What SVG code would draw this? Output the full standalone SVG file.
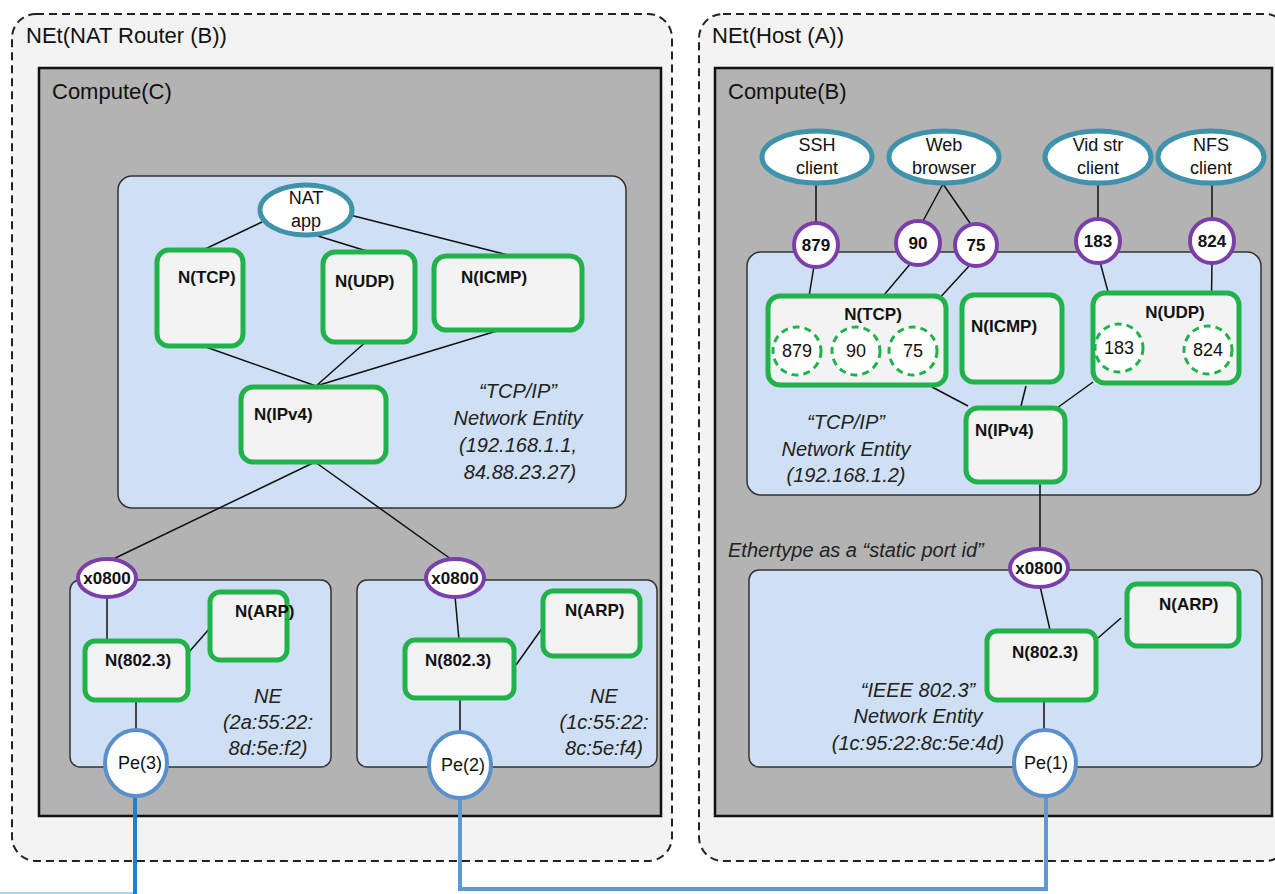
<svg xmlns="http://www.w3.org/2000/svg" width="1275" height="894" viewBox="0 0 1275 894">
<defs>
<style>
.outer{fill:#f3f3f3;stroke:#222;stroke-width:2;stroke-dasharray:8 5}
.compute{fill:#b3b3b3;stroke:#111;stroke-width:2.5}
.ent{fill:#cfe0f4;stroke:#333;stroke-width:1.5}
.node{fill:#f3f3f3;stroke:#22b24c;stroke-width:5}
.app{fill:#fff;stroke:#3f92aa;stroke-width:5}
.port{fill:#fff;stroke:#7a3fa8;stroke-width:4}
.dport{fill:#fff;stroke:#22b24c;stroke-width:3;stroke-dasharray:7 5}
.pe{fill:#fff;stroke:#5b8fc9;stroke-width:4}
.ln{stroke:#111;stroke-width:1.5;fill:none}
.wire{stroke:#5b9bd5;stroke-width:4;fill:none}
.wire2{stroke:#1f80d0;stroke-width:4;fill:none}
text{font-family:"Liberation Sans",Arial,sans-serif;fill:#111}
.title{font-size:22px}
.lbl{font-size:17px;font-weight:bold}
.reg{font-size:18px}
.it{font-size:20px;font-style:italic;fill:#222}
</style>
</defs>

<g id="netB">
<rect class="outer" x="12" y="14" width="660" height="847" rx="24"/>
<text class="title" x="26" y="43">NEt(NAT Router (B))</text>
</g>
<g id="netA">
<rect class="outer" x="699" y="14" width="590" height="847" rx="24"/>
<text class="title" x="712" y="43">NEt(Host (A))</text>
</g>

<g id="computeC">
<rect class="compute" x="39" y="68" width="622" height="748"/>
<text class="title" x="52" y="99">Compute(C)</text>
</g>
<g id="computeB">
<rect class="compute" x="715" y="68" width="557" height="748"/>
<text class="title" x="728" y="99">Compute(B)</text>
</g>

<g id="tcpipC">
<rect class="ent" x="118" y="176" width="508" height="332" rx="14"/>
<text class="it" text-anchor="middle" x="518" y="398">“TCP/IP”</text>
<text class="it" text-anchor="middle" x="518" y="425">Network Entity</text>
<text class="it" text-anchor="middle" x="518" y="452">(192.168.1.1,</text>
<text class="it" text-anchor="middle" x="520" y="479">84.88.23.27)</text>
</g>
<g id="neC3">
<rect class="ent" x="70" y="580" width="261" height="187" rx="10"/>
<text class="it" text-anchor="middle" x="268" y="703">NE</text>
<text class="it" text-anchor="middle" x="268" y="729">(2a:55:22:</text>
<text class="it" text-anchor="middle" x="268" y="755">8d:5e:f2)</text>
</g>
<g id="neC2">
<rect class="ent" x="357" y="580" width="300" height="187" rx="10"/>
<text class="it" text-anchor="middle" x="604" y="703">NE</text>
<text class="it" text-anchor="middle" x="604" y="729">(1c:55:22:</text>
<text class="it" text-anchor="middle" x="604" y="755">8c:5e:f4)</text>
</g>
<g id="tcpipB">
<rect class="ent" x="747" y="252" width="514" height="243" rx="14"/>
<text class="it" text-anchor="middle" x="846" y="429">“TCP/IP”</text>
<text class="it" text-anchor="middle" x="846" y="456">Network Entity</text>
<text class="it" text-anchor="middle" x="846" y="482">(192.168.1.2)</text>
</g>
<g id="ieeeB">
<rect class="ent" x="749" y="570" width="513" height="197" rx="10"/>
<text class="it" text-anchor="middle" x="918" y="697">“IEEE 802.3”</text>
<text class="it" text-anchor="middle" x="918" y="723">Network Entity</text>
<text class="it" text-anchor="middle" x="918" y="750">(1c:95:22:8c:5e:4d)</text>
</g>
<text class="it" x="728" y="557">Ethertype as a “static port id”</text>

<g id="connectors">
<line class="ln" x1="262" y1="222" x2="203" y2="250"/>
<line class="ln" x1="318" y1="236" x2="370" y2="252"/>
<line class="ln" x1="350" y1="215" x2="508" y2="255"/>
<line class="ln" x1="203" y1="346" x2="316" y2="386"/>
<line class="ln" x1="368" y1="340" x2="316" y2="386"/>
<line class="ln" x1="500" y1="330" x2="316" y2="386"/>
<line class="ln" x1="315" y1="462" x2="107" y2="562"/>
<line class="ln" x1="315" y1="462" x2="455" y2="562"/>
<line class="ln" x1="107" y1="596" x2="107" y2="640"/>
<line class="ln" x1="189" y1="652" x2="210" y2="628"/>
<line class="ln" x1="136" y1="700" x2="136" y2="730"/>
<line class="ln" x1="455" y1="596" x2="459" y2="640"/>
<line class="ln" x1="516" y1="665" x2="543" y2="627"/>
<line class="ln" x1="460" y1="698" x2="460" y2="732"/>
<line class="ln" x1="816" y1="184" x2="816" y2="222"/>
<line class="ln" x1="943" y1="184" x2="923" y2="221"/>
<line class="ln" x1="943" y1="184" x2="970" y2="223"/>
<line class="ln" x1="1098" y1="184" x2="1098" y2="218"/>
<line class="ln" x1="1212" y1="184" x2="1212" y2="218"/>
<line class="ln" x1="814" y1="266" x2="804" y2="327"/>
<line class="ln" x1="911" y1="263" x2="857" y2="327"/>
<line class="ln" x1="970" y1="265" x2="913" y2="327"/>
<line class="ln" x1="1100" y1="262" x2="1117" y2="325"/>
<line class="ln" x1="1212" y1="262" x2="1211" y2="327"/>
<line class="ln" x1="932" y1="387" x2="968" y2="406"/>
<line class="ln" x1="1026" y1="386" x2="1021" y2="406"/>
<line class="ln" x1="1093" y1="382" x2="1057" y2="408"/>
<line class="ln" x1="1040" y1="484" x2="1040" y2="549"/>
<line class="ln" x1="1040" y1="586" x2="1050" y2="630"/>
<line class="ln" x1="1098" y1="638" x2="1121" y2="618"/>
<line class="ln" x1="1044" y1="700" x2="1044" y2="730"/>
<polyline class="wire" points="460,797 460,889 1046,889 1046,797"/>
<line class="wire2" x1="135" y1="795" x2="135" y2="894"/>
<line x1="0" y1="893" x2="133" y2="893" stroke="#9fd8f0" stroke-width="2"/>
</g>

<g id="natapp"><ellipse class="app" cx="306" cy="210" rx="46" ry="25"/><text class="reg" text-anchor="middle" x="306" y="204">NAT</text><text class="reg" text-anchor="middle" x="306" y="227">app</text></g>
<g id="c-tcp"><rect class="node" x="157" y="250" width="86" height="96" rx="12"/><text class="lbl" x="178" y="283">N(TCP)</text></g>
<g id="c-udp"><rect class="node" x="323" y="252" width="92" height="90" rx="12"/><text class="lbl" x="335" y="287">N(UDP)</text></g>
<g id="c-icmp"><rect class="node" x="434" y="256" width="148" height="74" rx="12"/><text class="lbl" x="461" y="283">N(ICMP)</text></g>
<g id="c-ipv4"><rect class="node" x="241" y="387" width="145" height="75" rx="12"/><text class="lbl" x="254" y="420">N(IPv4)</text></g>

<g id="c-x0800a"><ellipse class="port" cx="107" cy="578" rx="29" ry="19"/><text class="lbl" text-anchor="middle" x="107" y="584">x0800</text></g>
<g id="c-arp3"><rect class="node" x="210" y="592" width="77" height="68" rx="10"/><text class="lbl" x="235" y="617">N(ARP)</text></g>
<g id="c-8023a"><rect class="node" x="85" y="641" width="103" height="59" rx="10"/><text class="lbl" x="105" y="666">N(802.3)</text></g>
<g id="pe3"><ellipse class="pe" cx="136" cy="763" rx="31" ry="33"/><text class="reg" text-anchor="middle" x="140" y="769">Pe(3)</text></g>

<g id="c-x0800b"><ellipse class="port" cx="455" cy="578" rx="29" ry="19"/><text class="lbl" text-anchor="middle" x="455" y="584">x0800</text></g>
<g id="c-arp2"><rect class="node" x="543" y="591" width="97" height="65" rx="10"/><text class="lbl" x="565" y="616">N(ARP)</text></g>
<g id="c-8023b"><rect class="node" x="405" y="640" width="109" height="58" rx="10"/><text class="lbl" x="425" y="666">N(802.3)</text></g>
<g id="pe2"><ellipse class="pe" cx="460" cy="765" rx="31" ry="33"/><text class="reg" text-anchor="middle" x="463" y="771">Pe(2)</text></g>

<g id="ssh"><ellipse class="app" cx="817" cy="157" rx="55" ry="26"/><text class="reg" text-anchor="middle" x="817" y="151">SSH</text><text class="reg" text-anchor="middle" x="817" y="174">client</text></g>
<g id="web"><ellipse class="app" cx="944" cy="157" rx="55" ry="26"/><text class="reg" text-anchor="middle" x="944" y="151">Web</text><text class="reg" text-anchor="middle" x="944" y="174">browser</text></g>
<g id="vid"><ellipse class="app" cx="1098" cy="157" rx="53" ry="26"/><text class="reg" text-anchor="middle" x="1098" y="151">Vid str</text><text class="reg" text-anchor="middle" x="1098" y="174">client</text></g>
<g id="nfs"><ellipse class="app" cx="1211" cy="157" rx="53" ry="26"/><text class="reg" text-anchor="middle" x="1211" y="151">NFS</text><text class="reg" text-anchor="middle" x="1211" y="174">client</text></g>

<g id="p879"><circle class="port" cx="816" cy="245" r="22"/><text class="lbl" text-anchor="middle" x="816" y="251">879</text></g>
<g id="p90"><circle class="port" cx="918" cy="243" r="22"/><text class="lbl" text-anchor="middle" x="918" y="249">90</text></g>
<g id="p75"><circle class="port" cx="976" cy="245" r="21"/><text class="lbl" text-anchor="middle" x="976" y="251">75</text></g>
<g id="p183"><circle class="port" cx="1098" cy="241" r="22"/><text class="lbl" text-anchor="middle" x="1098" y="247">183</text></g>
<g id="p824"><circle class="port" cx="1212" cy="241" r="22"/><text class="lbl" text-anchor="middle" x="1212" y="247">824</text></g>

<g id="b-tcp"><rect class="node" x="768" y="296" width="178" height="89" rx="12"/><text class="lbl" text-anchor="middle" x="873" y="320">N(TCP)</text>
<circle class="dport" cx="797" cy="351" r="24"/><text class="reg" text-anchor="middle" x="797" y="357">879</text>
<circle class="dport" cx="856" cy="351" r="24"/><text class="reg" text-anchor="middle" x="856" y="357">90</text>
<circle class="dport" cx="913" cy="351" r="24"/><text class="reg" text-anchor="middle" x="913" y="357">75</text></g>
<g id="b-icmp"><rect class="node" x="962" y="295" width="100" height="87" rx="12"/><text class="lbl" x="971" y="332">N(ICMP)</text></g>
<g id="b-udp"><rect class="node" x="1093" y="293" width="146" height="90" rx="12"/><text class="lbl" text-anchor="middle" x="1175" y="318">N(UDP)</text>
<circle class="dport" cx="1119" cy="348" r="24"/><text class="reg" text-anchor="middle" x="1119" y="354">183</text>
<circle class="dport" cx="1208" cy="350" r="24"/><text class="reg" text-anchor="middle" x="1208" y="356">824</text></g>
<g id="b-ipv4"><rect class="node" x="966" y="408" width="99" height="74" rx="12"/><text class="lbl" x="975" y="436">N(IPv4)</text></g>

<g id="b-x0800"><ellipse class="port" cx="1039" cy="568" rx="29" ry="19"/><text class="lbl" text-anchor="middle" x="1039" y="574">x0800</text></g>
<g id="b-arp"><rect class="node" x="1127" y="584" width="112" height="62" rx="10"/><text class="lbl" x="1159" y="610">N(ARP)</text></g>
<g id="b-8023"><rect class="node" x="987" y="631" width="109" height="69" rx="10"/><text class="lbl" x="1012" y="658">N(802.3)</text></g>
<g id="pe1"><ellipse class="pe" cx="1045" cy="763" rx="31" ry="33"/><text class="reg" text-anchor="middle" x="1046" y="769">Pe(1)</text></g>
</svg>
